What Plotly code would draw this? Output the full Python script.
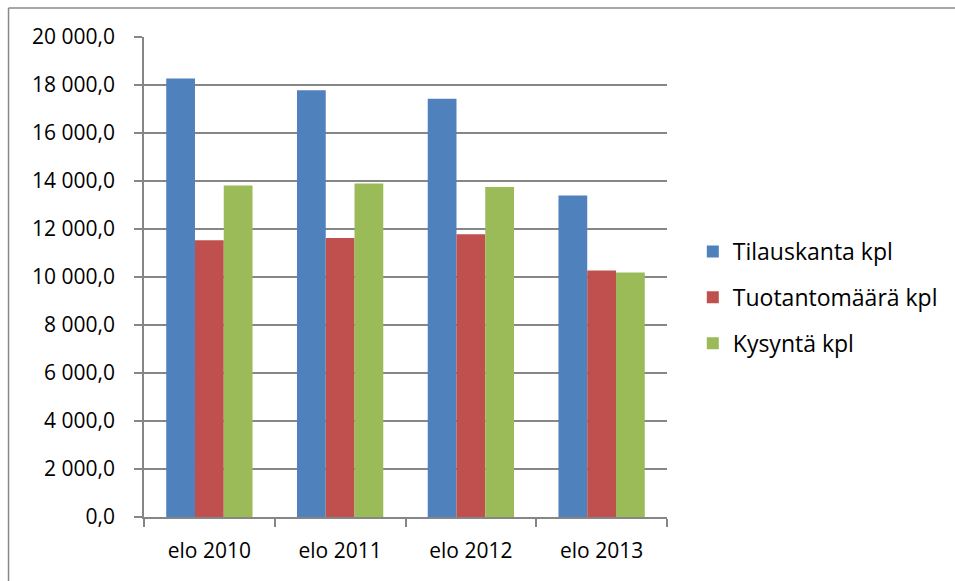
import plotly.graph_objects as go

categories = ["elo 2010", "elo 2011", "elo 2012", "elo 2013"]
tilauskanta = [18270, 17780, 17430, 13400]
tuotantomaara = [11530, 11625, 11780, 10270]
kysynta = [13810, 13900, 13750, 10185]
y_ticks = [0, 2000, 4000, 6000, 8000, 10000, 12000, 14000, 16000, 18000, 20000]

series = [
    ("Tilauskanta kpl", tilauskanta, "#4F81BD"),
    ("Tuotantomäärä kpl", tuotantomaara, "#C0504D"),
    ("Kysyntä kpl", kysynta, "#9BBB59"),
]

FONT = "Open Sans"
fig = go.Figure()
for i, (name, vals, col) in enumerate(series):
    fig.add_trace(go.Bar(x=categories, y=vals, name=name, marker_color=col,
                         marker_line_width=0, legendgroup=f"g{i}"))

W, H = 955, 581
L, R, T, B = 144, 284, 37, 64
pw = W - L - R
ph = H - T - B

def px_x(x):
    return (x - L) / pw

def px_y(y):
    return 1 - (y - T) / ph

fig.update_layout(
    width=W, height=H,
    margin=dict(l=L, r=R, t=T, b=B),
    paper_bgcolor="white", plot_bgcolor="white",
    barmode="group", bargap=0.34, bargroupgap=0,
    separators=", ",
    font=dict(family=FONT, size=21, color="black"),
    legend=dict(x=px_x(697), y=px_y(230), xanchor="left", yanchor="top",
                font=dict(family=FONT, size=23, color="black"),
                tracegroupgap=13, bgcolor="rgba(0,0,0,0)"),
    xaxis=dict(showline=True, linecolor="#868686", linewidth=1.5,
               ticks="outside", ticklen=8, tickcolor="#868686", tickwidth=1.5,
               tickson="boundaries", showgrid=False, ticklabelstandoff=14),
    yaxis=dict(range=[0, 20000], tickvals=y_ticks, tickformat=",.1f",
               showline=True, linecolor="#868686", linewidth=1.5,
               ticks="outside", ticklen=8, tickcolor="#868686", tickwidth=1.5,
               showgrid=True, gridcolor="#868686", gridwidth=1.5,
               zeroline=False, ticklabelstandoff=15),
    shapes=[
        dict(type="line", xref="paper", yref="paper",
             x0=px_x(7.5), x1=px_x(W + 10), y0=px_y(8), y1=px_y(8),
             line=dict(color="#888888", width=1.5)),
        dict(type="line", xref="paper", yref="paper",
             x0=px_x(7.5), x1=px_x(7.5), y0=px_y(8), y1=px_y(H + 10),
             line=dict(color="#888888", width=1.5)),
    ],
)

fig.write_html("out.html", config={"displayModeBar": False},
               post_script="document.body.style.margin='0px';")
